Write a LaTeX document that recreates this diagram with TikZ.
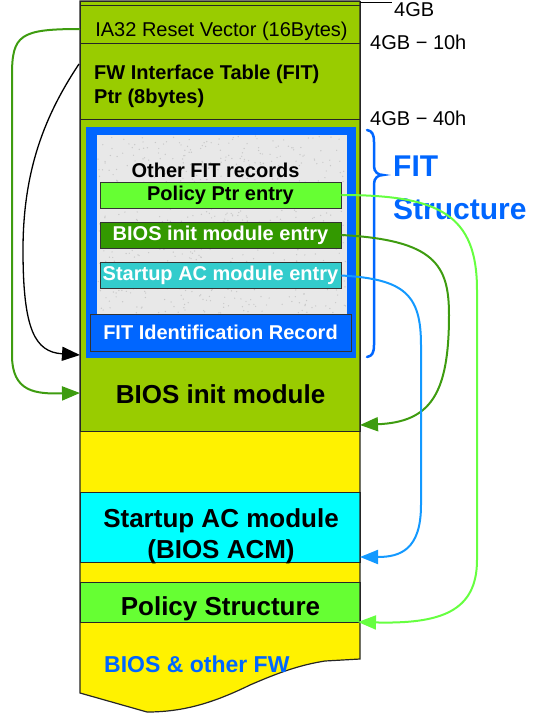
\documentclass[tikz,border=0pt]{standalone}
\usepackage{fontspec}
\setmainfont{Liberation Sans}
\usetikzlibrary{arrows.meta}
\definecolor{fitgreen}{HTML}{99CC00}
\definecolor{polgreen}{HTML}{66FF33}
\definecolor{biosent}{HTML}{339900}
\definecolor{acent}{HTML}{33CCCC}
\definecolor{acmcyan}{HTML}{00FFFF}
\definecolor{fitblue}{HTML}{0066FF}
\definecolor{texgray}{HTML}{E8E8E8}
\definecolor{texdot}{HTML}{C8C8C8}
\definecolor{arrgreen}{HTML}{3E9C10}
\definecolor{arrblue}{HTML}{1399FF}
\definecolor{arrlight}{HTML}{66FF40}
\begin{document}
\begin{tikzpicture}[x=1pt,y=-1pt,
  txt/.style={font=\fontsize{20}{24}\selectfont, inner sep=0pt},
  btxt/.style={font=\fontsize{20}{24}\selectfont\bfseries, inner sep=0pt},
  bigtxt/.style={font=\fontsize{26}{31}\selectfont\bfseries, inner sep=0pt},
  blk/.style={draw=black!85, line width=1.2pt, inner sep=0pt, anchor=north west, minimum width=280pt},
  entrybox/.style={draw=black!80, line width=0.8pt, inner sep=0pt, minimum width=241pt, minimum height=26pt, font=\fontsize{20}{24}\selectfont\bfseries},
  conn/.style={line width=2pt, -{Triangle[length=18pt,width=14pt]}},
  bracestyle/.style={draw=fitblue, line width=2.5pt, line cap=round}]
\useasboundingbox (0,0) rectangle (533,713);
% column body
\path[fill=yellow] (80,1) -- (360,1) -- (360,659) -- (325,661)
  .. controls (300,665) and (280,672) .. (250,685)
  .. controls (215,702) and (185,712) .. (147,712) -- (80,693) -- cycle;
\node[blk, fill=fitgreen, minimum height=4pt] (topstrip) at (80,1) {};
\node[blk, fill=fitgreen, minimum height=38pt] (reset) at (80,5) {};
\node[blk, fill=fitgreen, minimum height=76pt] (fitptr) at (80,43) {};
\node[blk, fill=fitgreen, minimum height=312pt] (biosmod) at (80,119) {};
\node[blk, fill=acmcyan, minimum height=70pt] (acm) at (80,492) {};
\node[blk, fill=polgreen, minimum height=40pt] (policy) at (80,582) {};
\draw[black!85, line width=1.2pt] (360,1) -- (360,659) -- (325,661)
  .. controls (300,665) and (280,672) .. (250,685)
  .. controls (215,702) and (185,712) .. (147,712) -- (80,693) -- (80,1) -- (360,1);
% texts of the column
\node[txt, anchor=base] (resettxt) at (221.5,36) {IA32 Reset Vector (16Bytes)};
\node[btxt, anchor=base west] (fitptr1) at (94,79) {FW Interface Table (FIT)};
\node[btxt, anchor=base west] (fitptr2) at (94,103) {Ptr (8bytes)};
\node[bigtxt, anchor=base] (biostxt) at (220.5,403) {BIOS init module};
\node[bigtxt, anchor=base] (acmtxt1) at (221,527) {Startup AC module};
\node[bigtxt, anchor=base] (acmtxt2) at (221,558) {(BIOS ACM)};
\node[bigtxt, anchor=base] (poltxt) at (220.5,615) {Policy Structure};
\node[inner sep=0pt, anchor=base west, text=fitblue, font=\fontsize{23}{27}\selectfont\bfseries] (othfw) at (104,672) {BIOS \& other FW};
% address labels
\draw[black, line width=0.8pt] (360,2) -- (392,2);
\node[txt, anchor=base west] (a4gb) at (394,16) {4GB};
\node[txt, anchor=base west] (a10h) at (370,49.5) {4GB − 10h};
\node[txt, anchor=base west] (a40h) at (370,125) {4GB − 40h};
% FIT structure
\fill[fitblue] (86,127) rectangle (356,358);
\fill[texgray] (97,135) rectangle (347,314);
\pgfmathsetseed{7}
\foreach \i in {1,...,700} {
  \pgfmathsetmacro{\px}{98+248*rnd}
  \pgfmathsetmacro{\py}{136+177*rnd}
  \fill[texdot] (\px,\py) circle[radius=0.7pt];
}
\node[btxt, anchor=base] (other) at (215.5,177) {Other FIT records};
\node[entrybox, fill=polgreen] (polptr) at (220.5,195) {Policy Ptr entry};
\node[entrybox, fill=biosent, text=white] (biosentry) at (220.5,235) {BIOS init module entry};
\node[entrybox, fill=acent, text=white] (acentry) at (220.5,275.5) {Startup AC module entry};
\node[entrybox, fill=fitblue, text=white, minimum width=261pt, minimum height=37pt] (fitid) at (220.5,332.5) {FIT Identification Record};
% brace
\draw[bracestyle] (367,130) .. controls (372,131) and (374,134) .. (374,142) -- (374,166)
  .. controls (374,172) and (378,175) .. (383,175)
  .. controls (378,175) and (374,178) .. (374,184) -- (374,345)
  .. controls (374,353) and (372,356) .. (367,357);
\node[inner sep=0pt, anchor=base west, text=fitblue, font=\fontsize{30}{36}\selectfont\bfseries] (fitlbl) at (393,176) {FIT};
\node[inner sep=0pt, anchor=base west, text=fitblue, font=\fontsize{30}{36}\selectfont\bfseries] (strlbl) at (393,219) {Structure};
% arrow end points
\coordinate (resetout) at (80,29);
\coordinate (fitptrout) at (79,64);
\coordinate (tipreset) at (80,393);
\coordinate (tipfit) at (80,355);
\coordinate (tipbios) at (360,425);
\coordinate (tipacm) at (360,557);
\coordinate (tippol) at (358,622);
% connectors
\draw[conn, arrgreen] (resetout) .. controls (20,29) and (12,35) .. (12,75) -- (12,355)
  .. controls (12,392) and (35,394) .. (tipreset);
\draw[conn, black, line width=1.3pt] (fitptrout) .. controls (45,115) and (23,170) .. (23,250)
  .. controls (23,330) and (35,352) .. (tipfit);
\draw[conn, arrgreen] (biosentry.east) .. controls (435,240) and (449,265) .. (449,315)
  .. controls (449,395) and (430,422) .. (tipbios);
\draw[conn, arrblue] (acentry.east) .. controls (405,279) and (421,295) .. (421,345) -- (421,505)
  .. controls (421,550) and (400,557) .. (tipacm);
\draw[conn, arrlight] (polptr.east) .. controls (440,195) and (477,215) .. (477,290) -- (477,560)
  .. controls (477,612) and (440,624) .. (tippol);
\end{tikzpicture}
\end{document}
